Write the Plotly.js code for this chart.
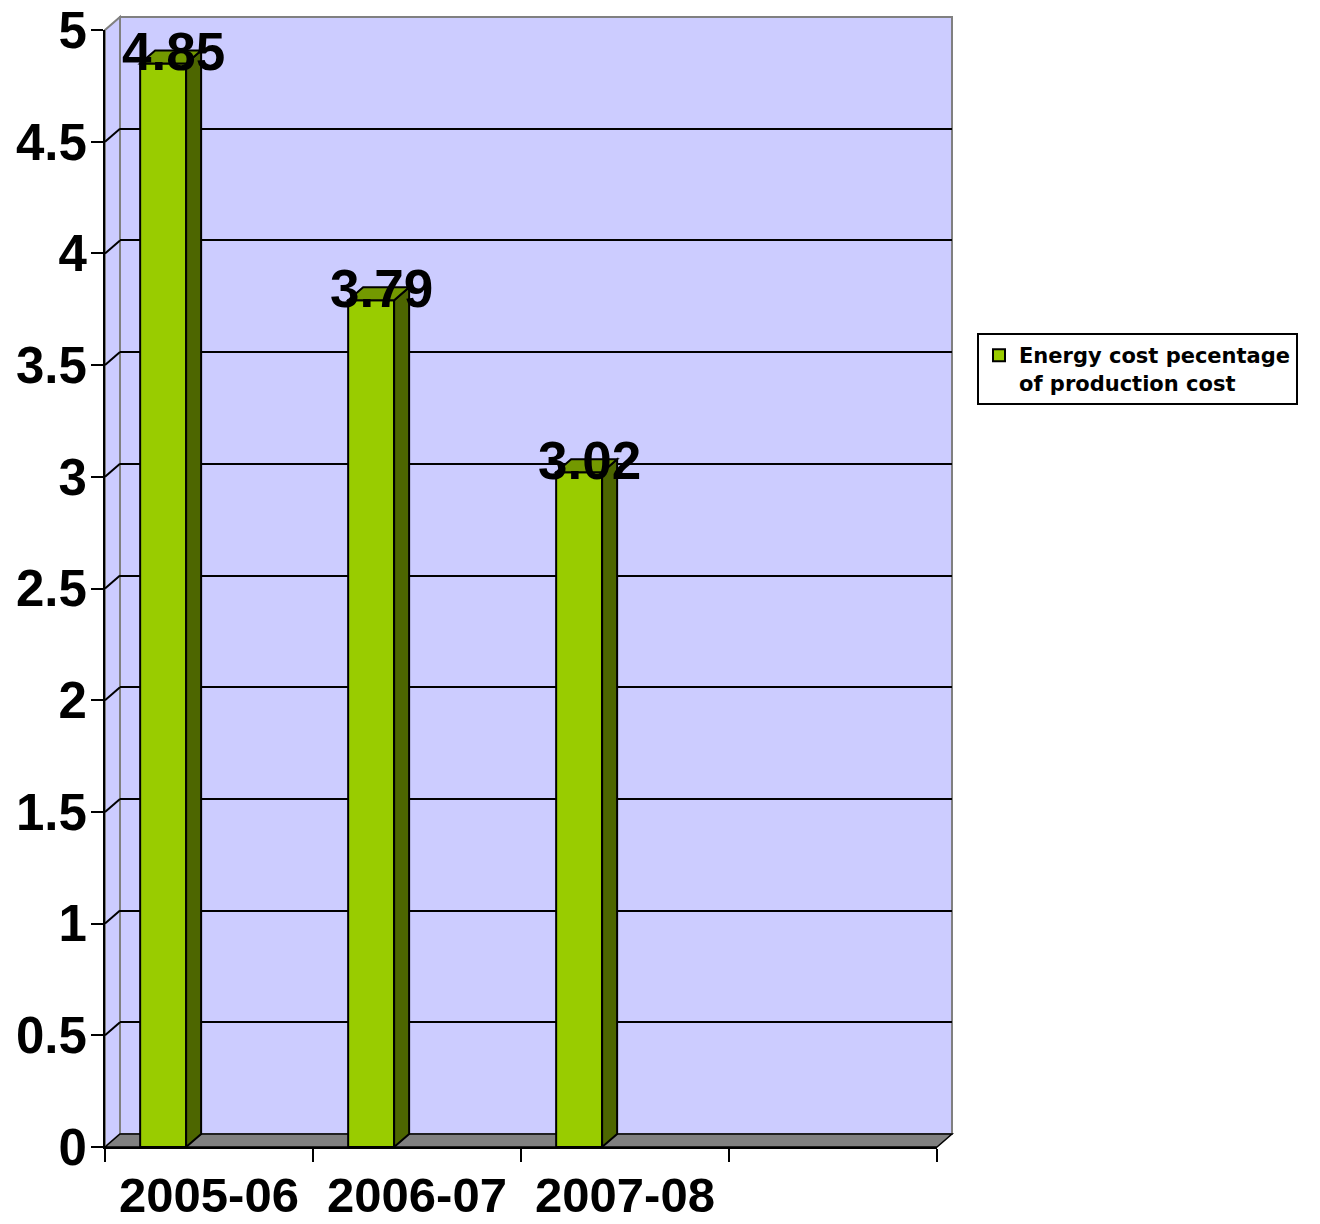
<!DOCTYPE html>
<html>
<head>
<meta charset="utf-8">
<script src="https://cdn.plot.ly/plotly-3.0.1.min.js"></script>
<style>html,body{margin:0;padding:0;background:#fff;}#chart{width:1320px;height:1224px;}</style>
</head>
<body>
<div id="chart"></div>
<script>
// ---- data ----
const categories = ['2005-06', '2006-07', '2007-08'];
const values = [4.85, 3.79, 3.02];
const seriesName = 'Energy cost pecentage<br>of production cost';
const yTickValues = [0, 0.5, 1, 1.5, 2, 2.5, 3, 3.5, 4, 4.5, 5];
const yTickLabels = ['0', '0.5', '1', '1.5', '2', '2.5', '3', '3.5', '4', '4.5', '5'];
const slotCount = 4; // category slots on the axis (last one empty)

// ---- styling / geometry ----
const W = 1320, H = 1224;
const M = {l: 105, r: 368, t: 17, b: 77};
const PW = W - M.l - M.r;      // 847
const PH = H - M.t - M.b;      // 1130
const DEPTH_X = 15, DEPTH_Y = 13; // 3D depth offset in px
const FRONT_W = PW - DEPTH_X, FRONT_H = PH - DEPTH_Y;
const xRange = [-0.5, slotCount - 0.5];
const yRange = [0, 5];
const pxPerX = FRONT_W / (xRange[1] - xRange[0]);
const pxPerY = FRONT_H / (yRange[1] - yRange[0]);
const DXU = DEPTH_X / pxPerX, DYU = DEPTH_Y / pxPerY;
const BAR_W = 0.221, BAR_OFF = -0.331;
const FRONT = '#99CC00', SIDE = '#4D6600', TOP = '#739900';
const WALL = '#CCCCFF', FLOOR = '#808080';
const FONT = 'Liberation Sans, Arial, sans-serif';
const px = DEPTH_X / PW, py = DEPTH_Y / PH;

const idx = categories.map((c, i) => i);
const innerTicks = yTickValues.filter(v => v > yRange[0] && v < yRange[1]);

const traces = [
  // invisible helper so the back-wall subplot is drawn
  {type: 'scatter', x: [xRange[0]], y: [yRange[0]], xaxis: 'x', yaxis: 'y', mode: 'markers',
   marker: {opacity: 0}, showlegend: false, hoverinfo: 'skip'},
  {type: 'bar', x: idx, y: values, name: seriesName,
   xaxis: 'x2', yaxis: 'y2',
   width: BAR_W, offset: BAR_OFF,
   marker: {color: FRONT, line: {color: '#000', width: 2}},
   hoverinfo: 'skip', showlegend: true}
];

const shapes = [];
// back wall
shapes.push({type: 'rect', xref: 'paper', yref: 'paper', x0: px, x1: 1, y0: py, y1: 1,
  fillcolor: WALL, line: {color: '#808080', width: 2}, layer: 'below'});
// left side wall
shapes.push({type: 'path', xref: 'paper', yref: 'paper',
  path: `M 0,0 L 0,${FRONT_H / PH} L ${px},1 L ${px},${py} Z`,
  fillcolor: WALL, line: {color: '#808080', width: 2}, layer: 'below'});
// floor
shapes.push({type: 'path', xref: 'paper', yref: 'paper',
  path: `M 0,0 L ${px},${py} L 1,${py} L ${FRONT_W / PW},0 Z`,
  fillcolor: FLOOR, line: {color: '#000', width: 1.5}, layer: 'below'});
// side-wall grid connectors
innerTicks.forEach(v => {
  shapes.push({type: 'line', xref: 'paper', yref: 'y2', x0: 0, x1: px, y0: v, y1: v + DYU,
    line: {color: '#000', width: 2}, layer: 'below'});
});
// bar depth faces
values.forEach((v, i) => {
  const xl = i + BAR_OFF, xr = xl + BAR_W;
  shapes.push({type: 'path', xref: 'x2', yref: 'y2',
    path: `M ${xr},0 L ${xr + DXU},${DYU} L ${xr + DXU},${v + DYU} L ${xr},${v} Z`,
    fillcolor: SIDE, line: {color: '#000', width: 2}, layer: 'above'});
  shapes.push({type: 'path', xref: 'x2', yref: 'y2',
    path: `M ${xl},${v} L ${xr},${v} L ${xr + DXU},${v + DYU} L ${xl + DXU},${v + DYU} Z`,
    fillcolor: TOP, line: {color: '#000', width: 2}, layer: 'above'});
});

const annotations = values.map((v, i) => ({
  xref: 'x2', yref: 'y2', x: i + BAR_OFF + BAR_W / 2 + 0.048, y: v,
  text: v.toFixed(2), showarrow: false, xanchor: 'center', yanchor: 'middle', yshift: 12,
  font: {family: FONT, size: 53, color: '#000', weight: 'bold'}
}));

const layout = {
  width: W, height: H,
  margin: M,
  paper_bgcolor: '#fff', plot_bgcolor: 'rgba(0,0,0,0)',
  showlegend: true,
  legend: {
    x: (977 - M.l) / PW, xanchor: 'left', y: (H - M.b - 333) / PH, yanchor: 'top',
    bgcolor: '#fff', bordercolor: '#000', borderwidth: 2, valign: 'top',
    font: {family: 'DejaVu Sans, sans-serif', size: 21, color: '#000', weight: 'bold'}
  },
  // back wall grid
  xaxis: {domain: [px, 1], anchor: 'y', range: xRange, showticklabels: false, ticks: '',
    showgrid: false, showline: false, zeroline: false, fixedrange: true},
  yaxis: {domain: [py, 1], anchor: 'x', range: yRange, tickmode: 'array',
    tickvals: innerTicks,
    showticklabels: false, ticks: '', showgrid: true, gridcolor: '#000', gridwidth: 2,
    zeroline: false, showline: false, fixedrange: true},
  // front axes
  xaxis2: {domain: [0, FRONT_W / PW], anchor: 'y2', range: xRange, tickmode: 'array',
    tickvals: idx, ticktext: categories, ticks: '', showgrid: false, zeroline: false,
    showline: true, linecolor: '#000', linewidth: 2, ticklabelstandoff: 4,
    minor: {tickmode: 'array', tickvals: Array.from({length: slotCount + 1}, (_, k) => k - 0.5),
      ticks: 'outside', ticklen: 13, tickwidth: 2, tickcolor: '#000', showgrid: false},
    tickfont: {family: FONT, size: 49, color: '#000', weight: 'bold'}, fixedrange: true},
  yaxis2: {domain: [0, FRONT_H / PH], anchor: 'x2', range: yRange, tickmode: 'array',
    tickvals: yTickValues, ticktext: yTickLabels, ticks: 'outside', ticklen: 12, tickwidth: 2,
    tickcolor: '#000', showline: true, linecolor: '#000', linewidth: 2, showgrid: false,
    ticklabelstandoff: -6,
    zeroline: false, tickfont: {family: FONT, size: 51, color: '#000', weight: 'bold'},
    fixedrange: true},
  shapes: shapes,
  annotations: annotations
};

Plotly.newPlot('chart', traces, layout, {staticPlot: true, displayModeBar: false});
</script>
</body>
</html>
